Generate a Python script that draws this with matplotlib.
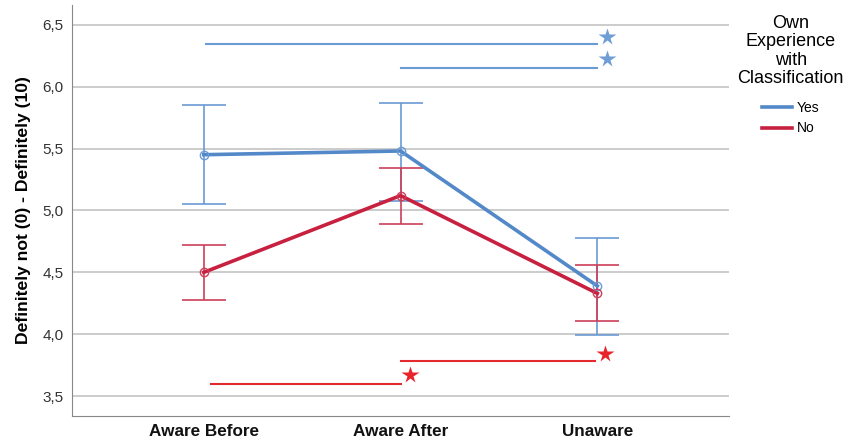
import matplotlib.pyplot as plt
import matplotlib.ticker as mticker
from matplotlib.lines import Line2D

plt.rcParams['font.family'] = ['Liberation Sans', 'DejaVu Sans']

categories = ["Aware Before", "Aware After", "Unaware"]
yes_mean = [5.45, 5.48, 4.39]
yes_low = [5.05, 5.08, 3.99]
yes_high = [5.85, 5.87, 4.78]
no_mean = [4.50, 5.12, 4.33]
no_low = [4.28, 4.89, 4.11]
no_high = [4.72, 5.34, 4.56]

# significance brackets: (x start, x end, y line, y star)
yes_sig = [(0.01, 2.0, 6.34, 6.40), (1.0, 2.0, 6.15, 6.22)]
no_sig = [(0.035, 1.0, 3.60, 3.67), (1.0, 1.99, 3.78, 3.84)]

blue = "#5389c9"
red = "#c8203f"
blue_err = "#6a9bd4"
red_err = "#cc3f5a"

fig = plt.figure(figsize=(8.49, 4.43), dpi=100)
ax = fig.add_axes([0.0848, 0.061, 0.774, 0.928])

x = list(range(len(categories)))
for mean, lo, hi, c, ce in [(yes_mean, yes_low, yes_high, blue, blue_err),
                            (no_mean, no_low, no_high, red, red_err)]:
    err = [[m - l for m, l in zip(mean, lo)], [h - m for m, h in zip(mean, hi)]]
    ax.errorbar(x, mean, yerr=err, fmt='none', ecolor=ce, elinewidth=1.2,
                capsize=16, capthick=1.2, zorder=3)
    ax.plot(x, mean, color=c, lw=2.6, zorder=4)
    ax.plot(x, mean, 'o', mfc='none', mec=ce, ms=6, mew=1, zorder=5)

for x0, x1, yl, ys in yes_sig:
    ax.plot([x0, x1], [yl, yl], color=blue_err, lw=1.5, zorder=3)
    ax.plot(x1 + 0.05, ys, marker='*', color="#6f9dd6", ms=13, mec='none', zorder=5)
for x0, x1, yl, ys in no_sig:
    ax.plot([x0, x1], [yl, yl], color="#e32a2f", lw=1.5, zorder=3)
    ax.plot(x1 + 0.05, ys, marker='*', color="#e8242a", ms=13, mec='none', zorder=5)

ax.set_xlim(-0.67, 2.67)
ax.set_ylim(3.34, 6.66)
ax.set_yticks([3.5, 4.0, 4.5, 5.0, 5.5, 6.0, 6.5])
ax.yaxis.set_major_formatter(mticker.FuncFormatter(lambda v, p: f"{v:.1f}".replace('.', ',')))
ax.set_xticks(x)
ax.set_xticklabels(categories, fontweight='bold', fontsize=12.3)
ax.tick_params(axis='both', length=0, pad=6)
ax.tick_params(axis='y', labelsize=11, colors='#333333')
ax.tick_params(axis='x', colors='#111111')
ax.grid(axis='y', color='#c8c8c8', lw=1.3)
ax.set_axisbelow(True)
for s in ['top', 'right']:
    ax.spines[s].set_visible(False)
for s in ['left', 'bottom']:
    ax.spines[s].set_color('#888888')
ax.set_ylabel("Definitely not (0) - Definitely (10)", fontweight='bold', fontsize=12.6,
              labelpad=8)

handles = [Line2D([], [], color=blue, lw=2.6), Line2D([], [], color=red, lw=2.6)]
leg = ax.legend(handles, ["Yes", "No"], title="Own\nExperience\nwith\nClassification",
                loc='upper left', bbox_to_anchor=(0.998, 1.0), frameon=False,
                fontsize=10, title_fontsize=13, handlelength=2.2, handletextpad=0.35,
                labelspacing=0.45, borderpad=0.2)
leg._legend_box.align = "center"
leg._legend_box.sep = 10
leg.get_title().set_multialignment('center')
leg.get_title().set_linespacing(1.12)

fig.savefig("out.png", dpi=100)
